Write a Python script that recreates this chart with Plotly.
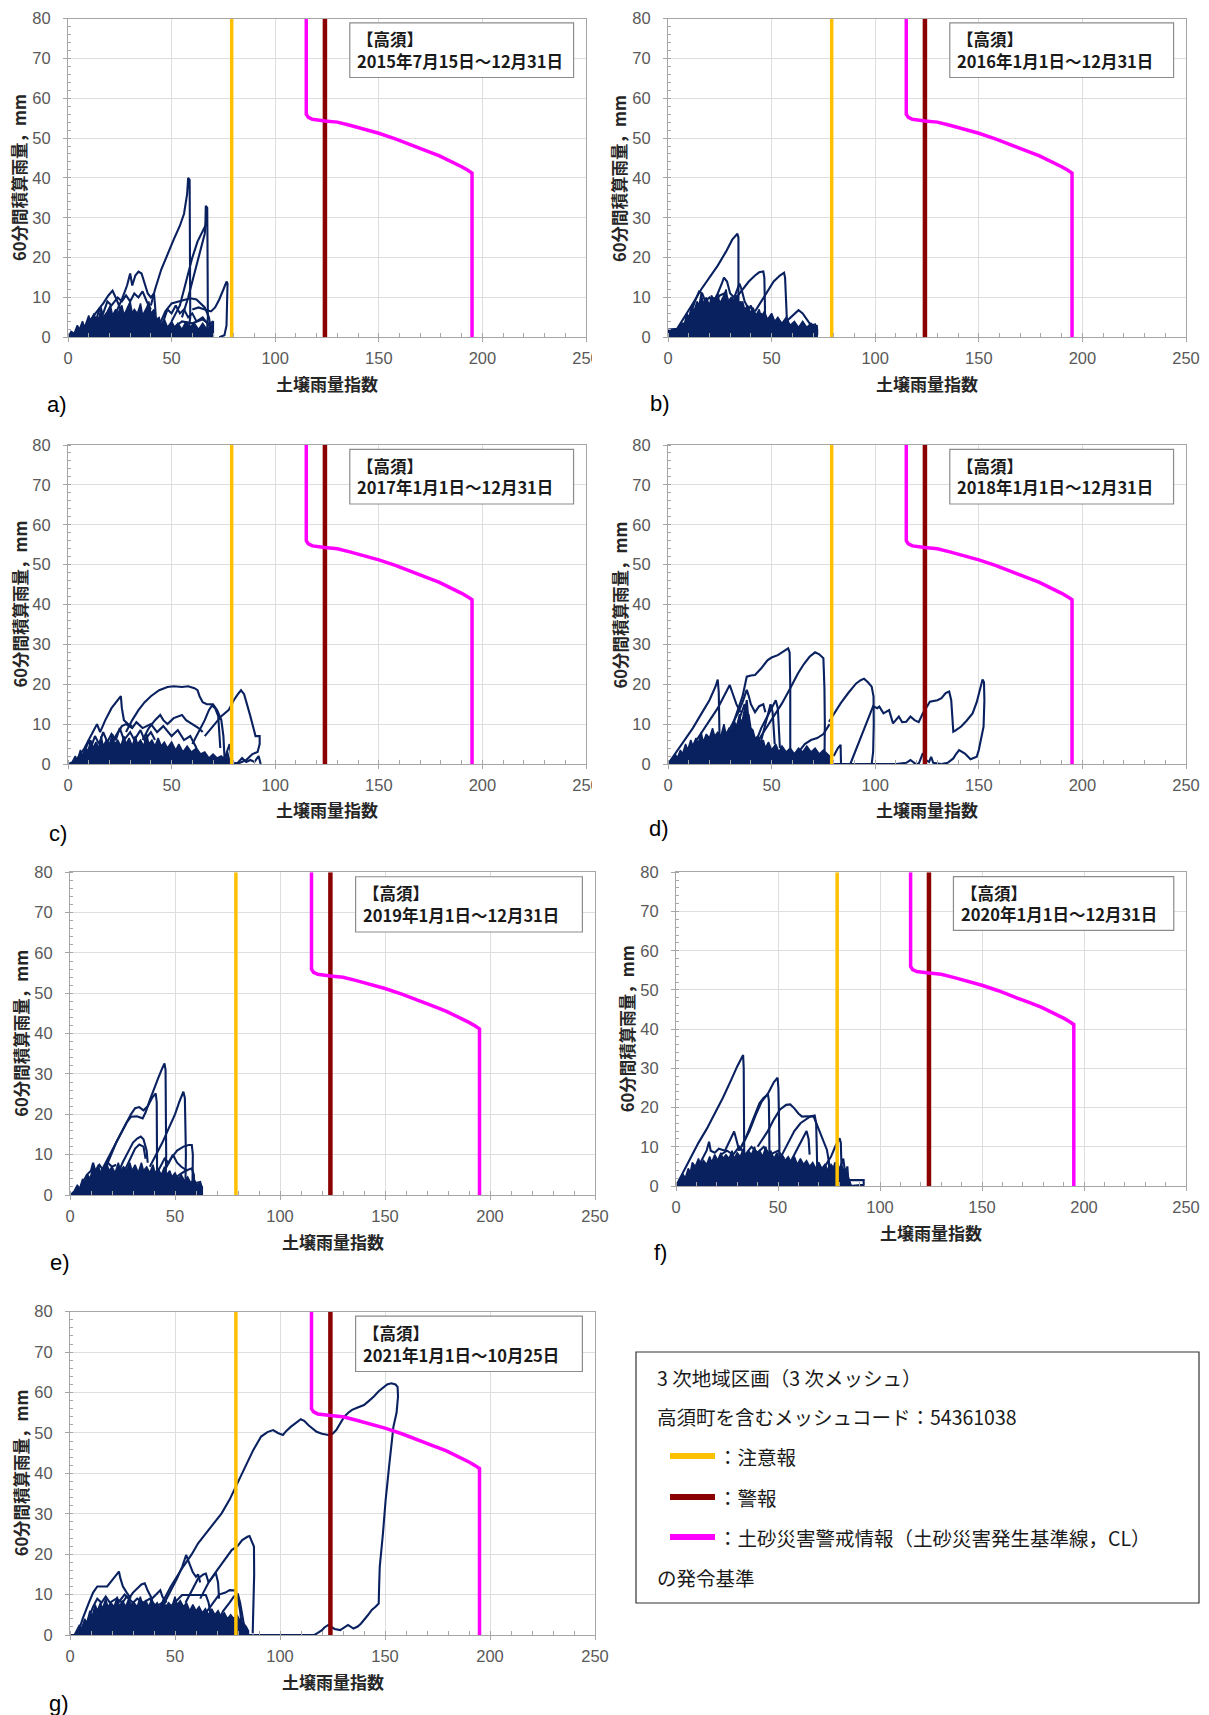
import plotly.graph_objects as go

# ---------------- data ----------------
X_RANGE = [0, 250]
Y_RANGE = [0, 80]
X_TICKS = [0, 50, 100, 150, 200, 250]
Y_TICKS = [0, 10, 20, 30, 40, 50, 60, 70, 80]

CAUTION_X = 79      # 注意報
WARNING_X = 124     # 警報
CL_X = [115, 115, 116, 118, 124, 130, 136, 143, 150, 158, 166, 173, 179, 185, 190, 193, 195, 195]
CL_Y = [80, 56, 55.2, 54.7, 54.3, 54.0, 53.2, 52.3, 51.2, 49.8, 48.1, 46.8, 45.6, 44.2, 42.8, 41.9, 41.2, 0]

PERIODS = ["2015年7月15日～12月31日", "2016年1月1日～12月31日", "2017年1月1日～12月31日",
           "2018年1月1日～12月31日", "2019年1月1日～12月31日", "2020年1月1日～12月31日",
           "2021年1月1日～10月25日"]
LETTERS = ["a)", "b)", "c)", "d)", "e)", "f)", "g)"]

# dense low-level clouds (outline of the solid region)
A_BLOB = [[0,0],[1.5,1.5],[3,1],[4.5,3],[5.5,2],[7,4],[8,2.5],[10,5.5],[11,3.5],[12.5,6],[13.5,4.5],[15,5],[16,7.5],[17,5],[19,6.5],[20.5,8],[21.5,5.5],[23,7],[24,6],[26,8],[27,5.5],[28.5,7.5],[30,9],[31,6],[32,7],[33.5,6],[35,8.5],[36,5.5],[38,7.5],[39,9],[40,6],[41.5,7],[42.5,4.5],[44,5],[45,3],[46.5,4.5],[48,2.5],[50,4],[51.5,2.5],[53,3.5],[55,2],[57,4],[58.5,2.5],[61,3.5],[63,2],[65,3.5],[67,2],[69,3],[70,1.5],[70,0]]
B_BLOB = [[0,0],[0,2],[5,2.2],[6.5,3.5],[8,3.5],[9,6],[10,5],[11.5,8],[12.5,6.5],[14,9],[15,8],[16,11],[17,8.5],[18.5,10],[20,8],[21,10.5],[22.5,9],[24,11],[25,8.5],[26.5,10],[28,12],[29,9],[30.5,10],[32,8.5],[33,10.5],[34.5,8],[36,9],[37,7],[38.5,8],[40,6],[41,7.5],[42.5,5.5],[44,7],[45,5],[46.5,6.5],[48,4.5],[50,6],[51.5,4],[53,5],[55,3.5],[57,5],[59,3],[61,4],[63,2.5],[65,4],[67,2.5],[69,3.5],[71,2.5],[72,3],[72,0]]
C_BLOB = [[0,0],[2,0.5],[3.5,2],[4.5,1],[6,3.5],[7,2],[8.5,4.5],[9.5,3],[11,6],[12,4],[13.5,5.5],[15,4],[16,7],[17,4.5],[18.5,6],[20,5],[21.5,7.5],[22.5,5],[24,6],[25.5,4.5],[27,7],[28,5],[29.5,6.5],[31,4.5],[32.5,7],[33.5,5],[35,6],[36.5,4.5],[38,7.5],[39,5],[40.5,6],[42,4.5],[43.5,6.5],[45,4.5],[46.5,5.5],[48,4],[50,5.5],[52,3.5],[53.5,5],[55.5,3],[57.5,4.5],[59.5,3],[62,4],[64,2.5],[66,3],[68,1.5],[70,2.5],[72,1.5],[74,2],[76,1],[77,3],[78,1],[78,0]]
D_BLOB = [[0,0],[2,1],[3.5,2.5],[4.5,1.5],[6,3.5],[7,2.5],[8.5,5],[9.5,3.5],[11,6],[12,4.5],[13.5,6.5],[14.5,5],[16,8],[17,5.5],[18.5,7.5],[20,6.5],[21.5,9],[22.5,7],[24,8],[25.5,7],[27,10],[28,7.5],[29.5,9],[31,8],[32,11],[33,9],[34.5,12.5],[35.5,10],[37,14],[38,11],[39,12.5],[40,9],[41,8.5],[42,6.5],[43.5,7],[44.5,5],[46,6],[47,4],[48.5,5.5],[50,3.5],[52,5],[53.5,3],[55,4.5],[57,3],[59,4],[61,2.5],[63,4],[65,3],[67,4.5],[69,3],[71,4],[73,2.5],[75,3.5],[77,2.5],[78,2],[78,0]]
E_BLOB = [[0,0],[2,1],[3.5,2.5],[4.5,1.5],[6,4],[7,3],[8.5,5],[9.5,4],[11,7],[12,5.5],[13.5,7.5],[14.5,5.5],[16,6.5],[17.5,8],[18.5,6],[20,7],[21.5,5.5],[23,8],[24,6],[25.5,7],[27,6],[28.5,8],[29.5,6],[31,7.5],[32.5,5.5],[34,8],[35,6],[36.5,7],[38,5.5],[39.5,7.5],[40.5,5.5],[42,6.5],[43.5,5],[45,7],[46,5],[47.5,6],[48.5,4.5],[50,5.5],[51.5,4],[53,5],[54.5,3.5],[56,4.5],[57.5,3],[59,4],[60.5,2.5],[62,3],[63,2],[63,0]]
F_BLOB = [[0,0],[2,1.5],[3.5,3],[4.5,2],[6,4.5],[7,3.5],[8,6],[9.5,5],[11,7],[12,5.5],[13.5,6.5],[15,5.5],[16.5,7.5],[17.5,6],[19,8],[20.5,6.5],[22,8.5],[23,7],[24.5,8],[26,7],[27.5,9],[28.5,7],[30,8.5],[31.5,7.5],[33,9.5],[34,7.5],[35.5,9],[37,8],[38.5,10],[39.5,8],[41,9],[42.5,7.5],[44,10],[45,8],[46.5,9],[48,7],[49.5,8.5],[50.5,7],[52,8],[53.5,6.5],[55,7.5],[56.5,6],[58,7.5],[59.5,5.5],[61,7],[62.5,5.5],[64,6.5],[65.5,5],[67,6],[68.5,4.5],[70,6],[71.5,4.5],[73,5.5],[74.5,4],[76,5.5],[77.5,4.5],[79,6],[80,4.5],[81.5,5],[82.5,3.5],[84,3],[85,1.5],[86,0]]
G_BLOB = [[2,0],[3,1],[4.5,2.5],[5.5,1.5],[7,4],[8,3],[9.5,6],[10.5,4.5],[12,7.5],[13,6],[14.5,8],[15.5,6.5],[17,9],[18,7],[19.5,8],[21,7],[22.5,9.5],[23.5,7],[25,8.5],[26.5,7],[28,9],[29,7.5],[30.5,8],[32,7],[33.5,9.5],[34.5,7.5],[36,8.5],[37.5,7],[39,9],[40,7],[41.5,8],[43,6.5],[44.5,9],[45.5,7],[47,8],[48.5,7],[50,9.5],[51,7.5],[52.5,8.5],[54,7],[55.5,8],[57,6],[58.5,7.5],[60,6],[61.5,7],[63,5.5],[64.5,6.5],[66,5],[67.5,6.5],[69,5],[70.5,6],[72,4.5],[73.5,5.5],[75,4],[76.5,5],[78,4],[79.5,5],[81,3.5],[82.5,3],[84,2],[85,1],[85,0]]

# individual snake-line trajectories
A_TRACKS = [
    [[40,8],[42,12],[45,17],[48,21],[51,24.5],[54,28],[56,31],[57.5,36],[58,40],[58.7,39.5],[58.7,30],[58.8,15],[59,5],[58,1],[55,0]],
    [[50,4],[54,8],[57,14],[60,20],[62.5,24],[65,26.5],[66.3,28],[66.5,33],[67.2,32.5],[67.3,25],[67.5,15],[67.5,5],[67,1],[65,0]],
    [[55,5],[58,10],[61,16],[64,22],[66,26],[66.8,30],[67,31]],
    [[60,7],[63,7.5],[66,7],[69,6.5],[71,7.5],[73,9.5],[75,12],[76.5,14],[77,13.5],[76.8,8],[76.5,3],[75.5,0.5],[73,0]],
    [[44,3],[47,6.5],[50,8.5],[53,9],[56,9.3],[59,9.8],[62,9.5],[64,8.5],[66,7.5],[68,5],[69,2],[69,0.5]],
    [[20,3],[23,6],[26,9.5],[28.5,13],[30,16],[31,13],[32.5,15.5],[34,16.5],[35.5,16],[37,13.5],[38.5,11],[40,10],[41.5,11],[42,8],[42.5,4],[42,0.5]],
    [[8,2],[11,4.5],[14,6.5],[17,8.5],[19.5,10.5],[21.5,11.7],[23,10],[25,7.5],[27,6],[30,4]],
    [[12,3],[14,5],[15,7],[17,6],[19,9],[21,8],[24,10],[26,9],[28,10.5],[30,9],[32,11],[34,10],[36,11.5],[38,9],[40,7]],
    [[44,1],[46,4],[48,7],[50,6],[52,8],[54,6],[56,7],[58,5],[60,6],[62,4],[65,5],[68,3],[70,4],[70,0]],
    [[46,0],[50,2],[55,4],[60,3.5],[65,4.5],[69,3],[70,1]],
    [[0,0],[70,0]],
]
B_TRACKS = [
    [[4,1.8],[8,5],[12,8.5],[16,12],[20,15],[24,18],[28,21.5],[31,24.5],[33.5,26],[34,25],[34,18],[34,10],[34.3,4],[34,0.5],[33,0]],
    [[30,8],[33,10],[36,12],[39,14],[42,15.5],[44,16.3],[46,16.5],[46.5,15],[46.7,10],[47,5],[47,1]],
    [[42,6.5],[45,9],[48,11.5],[51,14],[54,15.5],[56,16.2],[56.5,15],[56.8,10],[57,6],[57.5,3]],
    [[18,5],[21,8],[24,11],[26,13.5],[27,15],[28.5,14],[30,11],[32,10],[33.5,12],[34.5,13.5],[35.5,12],[37,9],[39,7]],
    [[8,3],[11,6],[13,9],[15,11.5],[16.5,11],[18,9],[20,10],[22,9],[25,10.5],[27,11],[29,9.5]],
    [[55,3],[58,4.5],[61,6],[63,6.8],[65,6],[67,4.5],[69,3],[71,3.2],[72,2],[72,0.5]],
    [[14,4],[17,8],[19,6],[22,10],[24,7],[27,9],[29,6],[31,10],[33,7],[35,9],[37,5],[40,8],[42,4],[45,6],[47,3],[50,5],[53,2],[56,4],[60,1.5]],
    [[0,0],[72,0]],
]
C_TRACKS = [
    [[4,1],[8,4],[12,8],[14,10],[15.5,8],[18,11],[21,14],[24,16],[25.5,17],[26,14],[27,11],[29,10],[31,9.5]],
    [[28,8],[31,11],[34,13.5],[37,15.5],[40,17],[44,18.5],[48,19.3],[51,19.5],[55,19.3],[58,19.5],[61,19],[62.5,18.5],[63.5,17],[65,15.5],[67,15],[70,15],[72,13.5],[74,11],[75,7],[75.5,2],[75,0]],
    [[66,7],[70,9.5],[74,12],[77.5,13.5],[80,16],[82,17.5],[83.5,18.5],[85,17.5],[86.5,15],[88,12],[89.5,9],[90.5,7],[92.5,7],[92.5,5],[91.5,3],[89,2.5],[86,1],[83,0.3],[80,0]],
    [[60,5],[63,8],[66,11],[68,13.5],[69.5,14.7],[71,14],[72.5,12],[73,8],[73.5,4]],
    [[36,6],[39,9],[42,11],[44.5,12.3],[46,11],[48,10],[51,11.5],[55,12.3],[57,11],[60,10],[63,9],[65,8]],
    [[20,4],[23,7],[26,9.5],[28,10],[31,9],[33,10.5],[36,9],[40,10],[43,8],[46,9.5],[50,7],[53,8.5],[56,6],[59,7],[62,4]],
    [[8,3],[10,6],[11,4],[13,7],[15,5],[17,8],[19,5.5],[21,7.5],[23,6],[25,9],[27,6],[30,8],[32,6],[35,8.5],[37,6],[40,8],[42,6]],
    [[73,0],[76,2],[78,5],[78.5,3],[79,0.5]],
    [[78,0],[82,0.3],[84,1.5],[86,0.5],[88,1],[90,0.5],[92,2],[93,0]],
    [[0,0],[80,0]],
]
D_TRACKS = [
    [[0,0],[4,3],[8,6],[12,9],[16,12.5],[20,16],[23,19.5],[24,21.2],[24.5,18],[24.7,10],[25,3],[24.5,0]],
    [[10,3],[15,7],[20,11],[24,14],[27,17],[29.8,19.8],[31,18],[33,15],[35,13]],
    [[24,3],[28,7],[31,10],[34,13],[36,15.5],[37.5,17.5],[38,18.6],[39,17],[40,15],[42,13],[44,14.5],[46,15],[47,13]],
    [[30,8],[33,12.7],[36,17],[38,21.9],[40,22.2],[42,22.3],[45,24],[48,26],[50,26.7],[53,27.3],[55,28],[57,28.8],[58,29],[58.7,28],[59,20],[59,10],[59,3],[58.5,0.5]],
    [[40,3],[45,7],[50,11],[55,15.2],[59,19],[62.7,22.7],[65.5,25],[68.3,26.9],[71,28],[73,27.5],[75,26.5],[75.5,19],[75.7,10],[75.8,3],[75.5,0]],
    [[44,4],[46,8],[48,12],[49.5,15],[50.5,13],[51,9],[51.5,5]],
    [[42,5],[45,9],[48,12],[50,14],[52,16],[53,14],[53.5,9],[54,4]],
    [[77.7,10.6],[80,12.5],[83.3,15.2],[87,17.8],[90.8,20.2],[93,21],[94.6,21.4],[96.5,20.5],[98.3,19.4],[99.2,16.9],[99.3,10],[99,3],[98.3,0]],
    [[88,0],[91,4],[94,8],[97,12],[99,14.5],[101,14],[102,14.4],[104,12.7],[106.7,13.5],[108.6,10.2],[110,11],[111.4,11.9],[113,10.5],[115,10.6],[117,11.9],[119,11],[121,10.5],[123,12.7],[126.4,15.6],[130,16],[132,16.5],[134,17.8],[135.7,18.2],[136.7,16],[137.2,12],[137.7,8.1],[139,8.5],[141.5,9.4],[144,10.8],[147,12.7],[149,15.5],[151,19.5],[151.8,21.2],[152.5,20.5],[152.7,16],[152.3,9.4],[151.4,6.9],[150,3.5],[149,1.8],[146,1.2],[143.3,2.6],[140.5,3.5],[139,2.5],[137.7,1.4],[135,0.3],[132,0]],
    [[78,0],[90,0],[100,0],[110,0],[115,0.3],[117,1],[119,0.2],[121,0],[123,2.7],[124.5,1],[126,0.5],[127,1.8],[128,0.3],[132,0]],
    [[80,2],[82,4],[83.3,4.8],[83.5,2],[83.5,0]],
    [[63,3],[66,5],[69,6],[72,6.5],[75,7.5],[77,9],[78,10]],
    [[34,4],[36,8],[37,12],[38,16],[38.5,13],[39,9],[40,6]],
    [[30,5],[32,8],[34,11],[36,14],[37,15],[38,12],[39,8],[40,5]],
    [[0,0],[78,0]],
]
E_TRACKS = [
    [[12,3],[16,7],[20,11],[24,15],[27,18],[29,19.4],[31.8,19.5],[34.6,19],[36,20.5],[38,23.5],[40,26.5],[42,29],[44,31.5],[45,32.6],[45.5,31],[45.7,20],[45.8,10],[45.5,3],[45,0.5]],
    [[14,3],[18,8],[22,13],[26,17],[29,20],[31,21.5],[33,21.8],[35,21],[37,22],[39,24],[40.8,25.2],[41.3,23],[41.5,15],[41.7,8],[41.5,3]],
    [[38,7],[41,10],[44,13],[47,16.5],[50,20],[52,23],[54,25.6],[54.7,24],[55,17],[55.2,10],[55,4]],
    [[44,5],[48,9],[51,11],[54,12],[56.5,12.4],[58,12.4],[58.5,10],[58.5,5],[58.3,2]],
    [[22,4],[25,8],[28,11],[30,13],[32,14],[33.7,14.5],[35,13.8],[36.5,11],[37,8]],
    [[26,6],[29,9.5],[31,11.5],[33,12.5],[35,12],[36,9]],
    [[48,3],[52,5],[55,6],[58,6.6],[59,5],[59,2]],
    [[55,1],[58,2],[60,3],[62,3.2],[62.5,2],[62,0.5],[60,0]],
    [[5,2],[8,5],[10,6],[11,8],[12,6],[14,7.5],[16,6],[18,8],[20,7],[22,7.5]],
    [[40,4],[43,7],[45,9],[47,8],[49,10],[51,8],[53,7],[56,6]],
    [[0,0],[63,0]],
]
F_TRACKS = [
    [[0,0],[3,3],[7,7],[11,11],[15,14.5],[19,18.5],[23,22.5],[27,27],[30,30.5],[32.9,33.4],[33.2,30],[33.3,20],[33.3,10],[33.5,3],[33,0]],
    [[31,9],[34,12],[37,16],[40.9,21.1],[43,22.5],[44.7,23.2],[46.5,25],[48,26.5],[49.8,27.6],[50.2,25],[50.5,17],[50.7,10],[50.5,4]],
    [[32,10],[36,14],[39,18],[42,21.5],[45,23.5],[45.5,22],[45.7,15],[45.8,8]],
    [[40,10],[45,14],[48,17],[51,19.5],[54,20.7],[56,20.8],[58,19.8],[60,18.5],[61.8,17.7],[64,17.8],[67.5,17.7],[69.4,15.1],[71,13],[73,10.5],[74,9.2],[75,6],[75,4]],
    [[52,8],[55,11],[58,14],[61,16],[64,17],[66,17.8],[68,18],[68.7,16],[69,10],[69.2,5]],
    [[56,6],[59,9],[62,12],[64,14],[65,12],[65.5,8]],
    [[70,3],[73,5],[76,7.5],[78,10],[80.2,12.2],[80.8,11],[81,7],[81.5,3],[81.5,1]],
    [[78,0.5],[80,1],[82,2],[84.6,1.5],[88,1.5],[92,1.5],[92,0.3],[85,0]],
    [[10,4],[13,7],[15,9],[16.2,11.3],[17,9],[19,8.5],[21,9.5],[24,9],[26,11],[28.5,13.9],[29.5,12],[31,9]],
    [[18,4],[22,8],[25,9],[28,8],[31,10],[34,8],[37,10],[40,8.5],[43,10],[46,8],[50,9],[53,7]],
    [[76,2],[78,6],[80,4],[82,7],[83,3],[84,5],[84.5,1]],
    [[0,0],[92,0]],
]
G_TRACKS = [
    [[40,4],[44,8],[48,12],[54,17],[58,20],[61,22.7],[66,26],[72.2,30.1],[76,33.5],[79.8,37.5],[84,42],[87.3,45.8],[91,49.1],[94,50.2],[96.7,50.7],[99,50],[101.4,49.5],[103,50.5],[105.1,51.5],[107.5,52.5],[109.9,53.4],[111.5,53],[113.6,51.9],[117.4,50.3],[120,49.8],[123,49.5],[125,49.8],[126.8,50.7],[129,52.5],[130.6,54],[132.5,55],[134.3,55.7],[137,56.3],[140,56.9],[142.5,58],[144.7,59],[147,60.3],[149.4,61.4],[151,62],[153,62.3],[155,62],[156,61.4],[156.2,59],[155.5,55],[154,51.5],[152,42],[150.3,33.4],[149,25],[147.5,16.9],[147.2,12],[147,7.8],[145.5,7],[143.7,6.2],[142,5],[140,3.7],[138.5,2.8],[137,2.1],[135,1.6],[132.4,2.5],[130.5,1.8],[128.7,1.2],[126,1.5],[123,2.5],[121,1.8],[120,1.2],[118,0.5],[116.4,0],[110,0],[100,0],[90,0],[87.3,0]],
    [[62,9],[66,13],[70,16],[74,19],[77,21],[79.8,22],[82,23.5],[84.5,24.3],[85.5,24.5],[86.3,23.5],[87.6,21.9],[87.7,15],[87.5,8],[87.3,3],[87,0.4]],
    [[44,7],[48,11],[51,14],[53.5,17],[55.3,19.8],[57,17.5],[58.5,15.5],[60,14.4],[61,15],[62,13]],
    [[55,8],[58,11],[61,14],[63.5,15],[64.7,15.2],[66,13],[68,14.5],[69.4,15.4],[70.5,13],[71,9]],
    [[64,5],[68,8],[71,10],[74,10.5],[76,11.1],[78.8,11],[80,9],[81,6],[81.6,3],[81.6,0.4]],
    [[3.6,0],[6,4],[9,8],[11,10.5],[13,12],[15,12],[17.7,12],[20,13.5],[23.3,15.7],[24,14],[25.2,12],[27,10.5],[29,9]],
    [[20,5],[23,8],[26,10],[28,9],[30,10.5],[32,11.5],[34,12.5],[35.6,12.8],[37,11],[39,9],[41,10],[43,11.1],[44,9.5],[46,8]],
    [[46,6],[50,8],[53.4,9.9],[57,9.9],[61,9.9],[64.7,9.9],[66,8],[67,5]],
    [[70,3],[73,6],[76,8],[78,9.5],[80,10],[81,8],[82,5],[83,2],[84,0.5]],
    [[8,3],[11,7],[13,9],[15,8],[17,9.5],[19,8],[22,9],[25,8],[27,9.5],[30,8],[32,9],[35,8],[38,9],[41,7],[44,8]],
    [[0,0],[87,0]],
]

BLOBS = [A_BLOB, B_BLOB, C_BLOB, D_BLOB, E_BLOB, F_BLOB, G_BLOB]
TRACKS = [A_TRACKS, B_TRACKS, C_TRACKS, D_TRACKS, E_TRACKS, F_TRACKS, G_TRACKS]

LEGEND_HEAD = ["3 次地域区画（3 次メッシュ）", "高須町を含むメッシュコード：54361038"]
LEGEND_ITEMS = ["：注意報", "：警報", "：土砂災害警戒情報（土砂災害発生基準線，CL）"]
LEGEND_TAIL = "の発令基準"

# ---------------- layout / styling ----------------
W, H = 1209, 1715
NAVY = "#0a2160"
YELLOW = "#FFC000"
DARKRED = "#8B0000"
MAGENTA = "#FF00FF"
GRID = "#dedede"
FRAME = "#a6a6a6"
TICKC = "#595959"
LAT = "Liberation Sans, Arial, sans-serif"
JP = "Noto Sans CJK JP, sans-serif"

# plot-area pixel boxes: left, right, top, bottom
PANEL_PX = [(68, 586, 18.5, 337.3), (668, 1186, 18.5, 337.3),
            (68, 586, 445, 764), (668, 1186, 445, 764),
            (70, 595, 872.3, 1195), (676, 1186, 872.3, 1186),
            (70, 595, 1311.7, 1635)]
LETTER_PX = [(45, 405), (648, 403), (47, 833), (647, 829), (48, 1262), (652, 1252), (47, 1703)]


def px(x):
    return x / W


def py(y):
    return 1 - y / H


fig = go.Figure()
layout = dict(width=W, height=H, margin=dict(l=0, r=0, t=0, b=0, pad=0, autoexpand=False),
              paper_bgcolor="white", plot_bgcolor="white", showlegend=False, template="none")
shapes = []
annotations = []

for i in range(7):
    n = i + 1
    xa = "x" if n == 1 else f"x{n}"
    ya = "y" if n == 1 else f"y{n}"
    xk = "xaxis" if n == 1 else f"xaxis{n}"
    yk = "yaxis" if n == 1 else f"yaxis{n}"
    L, R, T, B = PANEL_PX[i]

    blob = BLOBS[i]
    fig.add_trace(go.Scatter(x=[p[0] for p in blob], y=[p[1] for p in blob], xaxis=xa, yaxis=ya,
                             mode="lines", fill="toself", fillcolor=NAVY,
                             line=dict(color=NAVY, width=1.5), hoverinfo="skip"))
    xs, ys = [], []
    for tr in TRACKS[i]:
        xs += [p[0] for p in tr] + [None]
        ys += [p[1] for p in tr] + [None]
    fig.add_trace(go.Scatter(x=xs, y=ys, xaxis=xa, yaxis=ya, mode="lines",
                             line=dict(color=NAVY, width=2.1), connectgaps=False, hoverinfo="skip"))
    fig.add_trace(go.Scatter(x=[CAUTION_X, CAUTION_X], y=Y_RANGE, xaxis=xa, yaxis=ya, mode="lines",
                             line=dict(color=YELLOW, width=3.5), hoverinfo="skip"))
    fig.add_trace(go.Scatter(x=[WARNING_X, WARNING_X], y=Y_RANGE, xaxis=xa, yaxis=ya, mode="lines",
                             line=dict(color=DARKRED, width=4.5), hoverinfo="skip"))
    fig.add_trace(go.Scatter(x=CL_X, y=CL_Y, xaxis=xa, yaxis=ya, mode="lines",
                             line=dict(color=MAGENTA, width=3.5), hoverinfo="skip"))

    common = dict(showgrid=True, gridcolor=GRID, gridwidth=1, zeroline=False,
                  showline=True, linecolor=FRAME, linewidth=1, mirror=True,
                  ticks="outside", ticklen=4, tickcolor=FRAME, automargin=False,
                  tickfont=dict(family=LAT, size=16.5, color=TICKC), fixedrange=True)
    layout[xk] = dict(domain=[px(L), px(R)], anchor=ya, range=X_RANGE, tickvals=X_TICKS,
                      minor=dict(dtick=10, tick0=0, ticks="inside", ticklen=4, tickcolor=FRAME, showgrid=False),
                      ticklabelstandoff=2, **common)
    layout[yk] = dict(domain=[py(B), py(T)], anchor=xa, range=Y_RANGE, tickvals=Y_TICKS,
                      minor=dict(dtick=2, tick0=0, ticks="inside", ticklen=3, tickcolor=FRAME, showgrid=False),
                      ticklabelstandoff=9, **common)

    shapes.append(dict(type="rect", xref=xa, yref=ya, x0=136, x1=244, y0=65.2, y1=78.9,
                       line=dict(color="#8c8c8c", width=1.2), fillcolor="white", layer="above"))
    annotations.append(dict(xref=xa, yref=ya, x=138.5, y=74.8, text="<b>【高須】</b>", showarrow=False,
                            xanchor="left", yanchor="middle", font=dict(family=JP, size=16.5, color="#1a1a1a")))
    annotations.append(dict(xref=xa, yref=ya, x=138.5, y=69.4, text="<b>" + PERIODS[i] + "</b>", showarrow=False,
                            xanchor="left", yanchor="middle", font=dict(family=JP, size=16.5, color="#1a1a1a")))
    annotations.append(dict(xref="paper", yref="paper", x=px((L + R) / 2), y=py(B + 46),
                            text="<b>土壌雨量指数</b>", showarrow=False, xanchor="center", yanchor="middle",
                            font=dict(family=JP, size=17, color="#262626")))
    annotations.append(dict(xref="paper", yref="paper", x=px(L - 49), y=py((T + B) / 2),
                            text="<b>60分間積算雨量，mm</b>", showarrow=False, textangle=-90,
                            xanchor="center", yanchor="middle", font=dict(family=JP, size=16.5, color="#262626")))
    lx, ly = LETTER_PX[i]
    annotations.append(dict(xref="paper", yref="paper", x=px(lx), y=py(ly), text=LETTERS[i],
                            showarrow=False, xanchor="left", yanchor="middle",
                            font=dict(family=LAT, size=22, color="black")))

# the "250" of panels a) and c) is cut off in the source image
for ytop in (346, 773):
    shapes.append(dict(type="rect", xref="paper", yref="paper", x0=px(592), x1=px(606),
                       y0=py(ytop + 24), y1=py(ytop), line=dict(width=0), fillcolor="white", layer="above"))

# legend panel (bottom right)
shapes.append(dict(type="rect", xref="paper", yref="paper", x0=px(636), x1=px(1199), y0=py(1603), y1=py(1352),
                   line=dict(color="#333333", width=1.2), fillcolor="white"))
rows_y = [1377, 1416, 1456, 1497, 1537, 1577]
for k, t in enumerate(LEGEND_HEAD):
    annotations.append(dict(xref="paper", yref="paper", x=px(655), y=py(rows_y[k]), text=t, showarrow=False,
                            xanchor="left", yanchor="middle", font=dict(family=JP, size=19.5, color="#1a1a1a")))
for k, (t, c) in enumerate(zip(LEGEND_ITEMS, [YELLOW, DARKRED, MAGENTA])):
    yy = rows_y[2 + k]
    shapes.append(dict(type="line", xref="paper", yref="paper", x0=px(670), x1=px(715), y0=py(yy), y1=py(yy),
                       line=dict(color=c, width=6)))
    annotations.append(dict(xref="paper", yref="paper", x=px(716), y=py(yy), text=t, showarrow=False,
                            xanchor="left", yanchor="middle", font=dict(family=JP, size=19.5, color="#1a1a1a")))
annotations.append(dict(xref="paper", yref="paper", x=px(655), y=py(rows_y[5]), text=LEGEND_TAIL, showarrow=False,
                        xanchor="left", yanchor="middle", font=dict(family=JP, size=19.5, color="#1a1a1a")))

layout["shapes"] = shapes
layout["annotations"] = annotations
fig.update_layout(**layout)
fig.update_traces(showlegend=False)
fig.write_html("out.html", config=dict(displayModeBar=False, staticPlot=True))
